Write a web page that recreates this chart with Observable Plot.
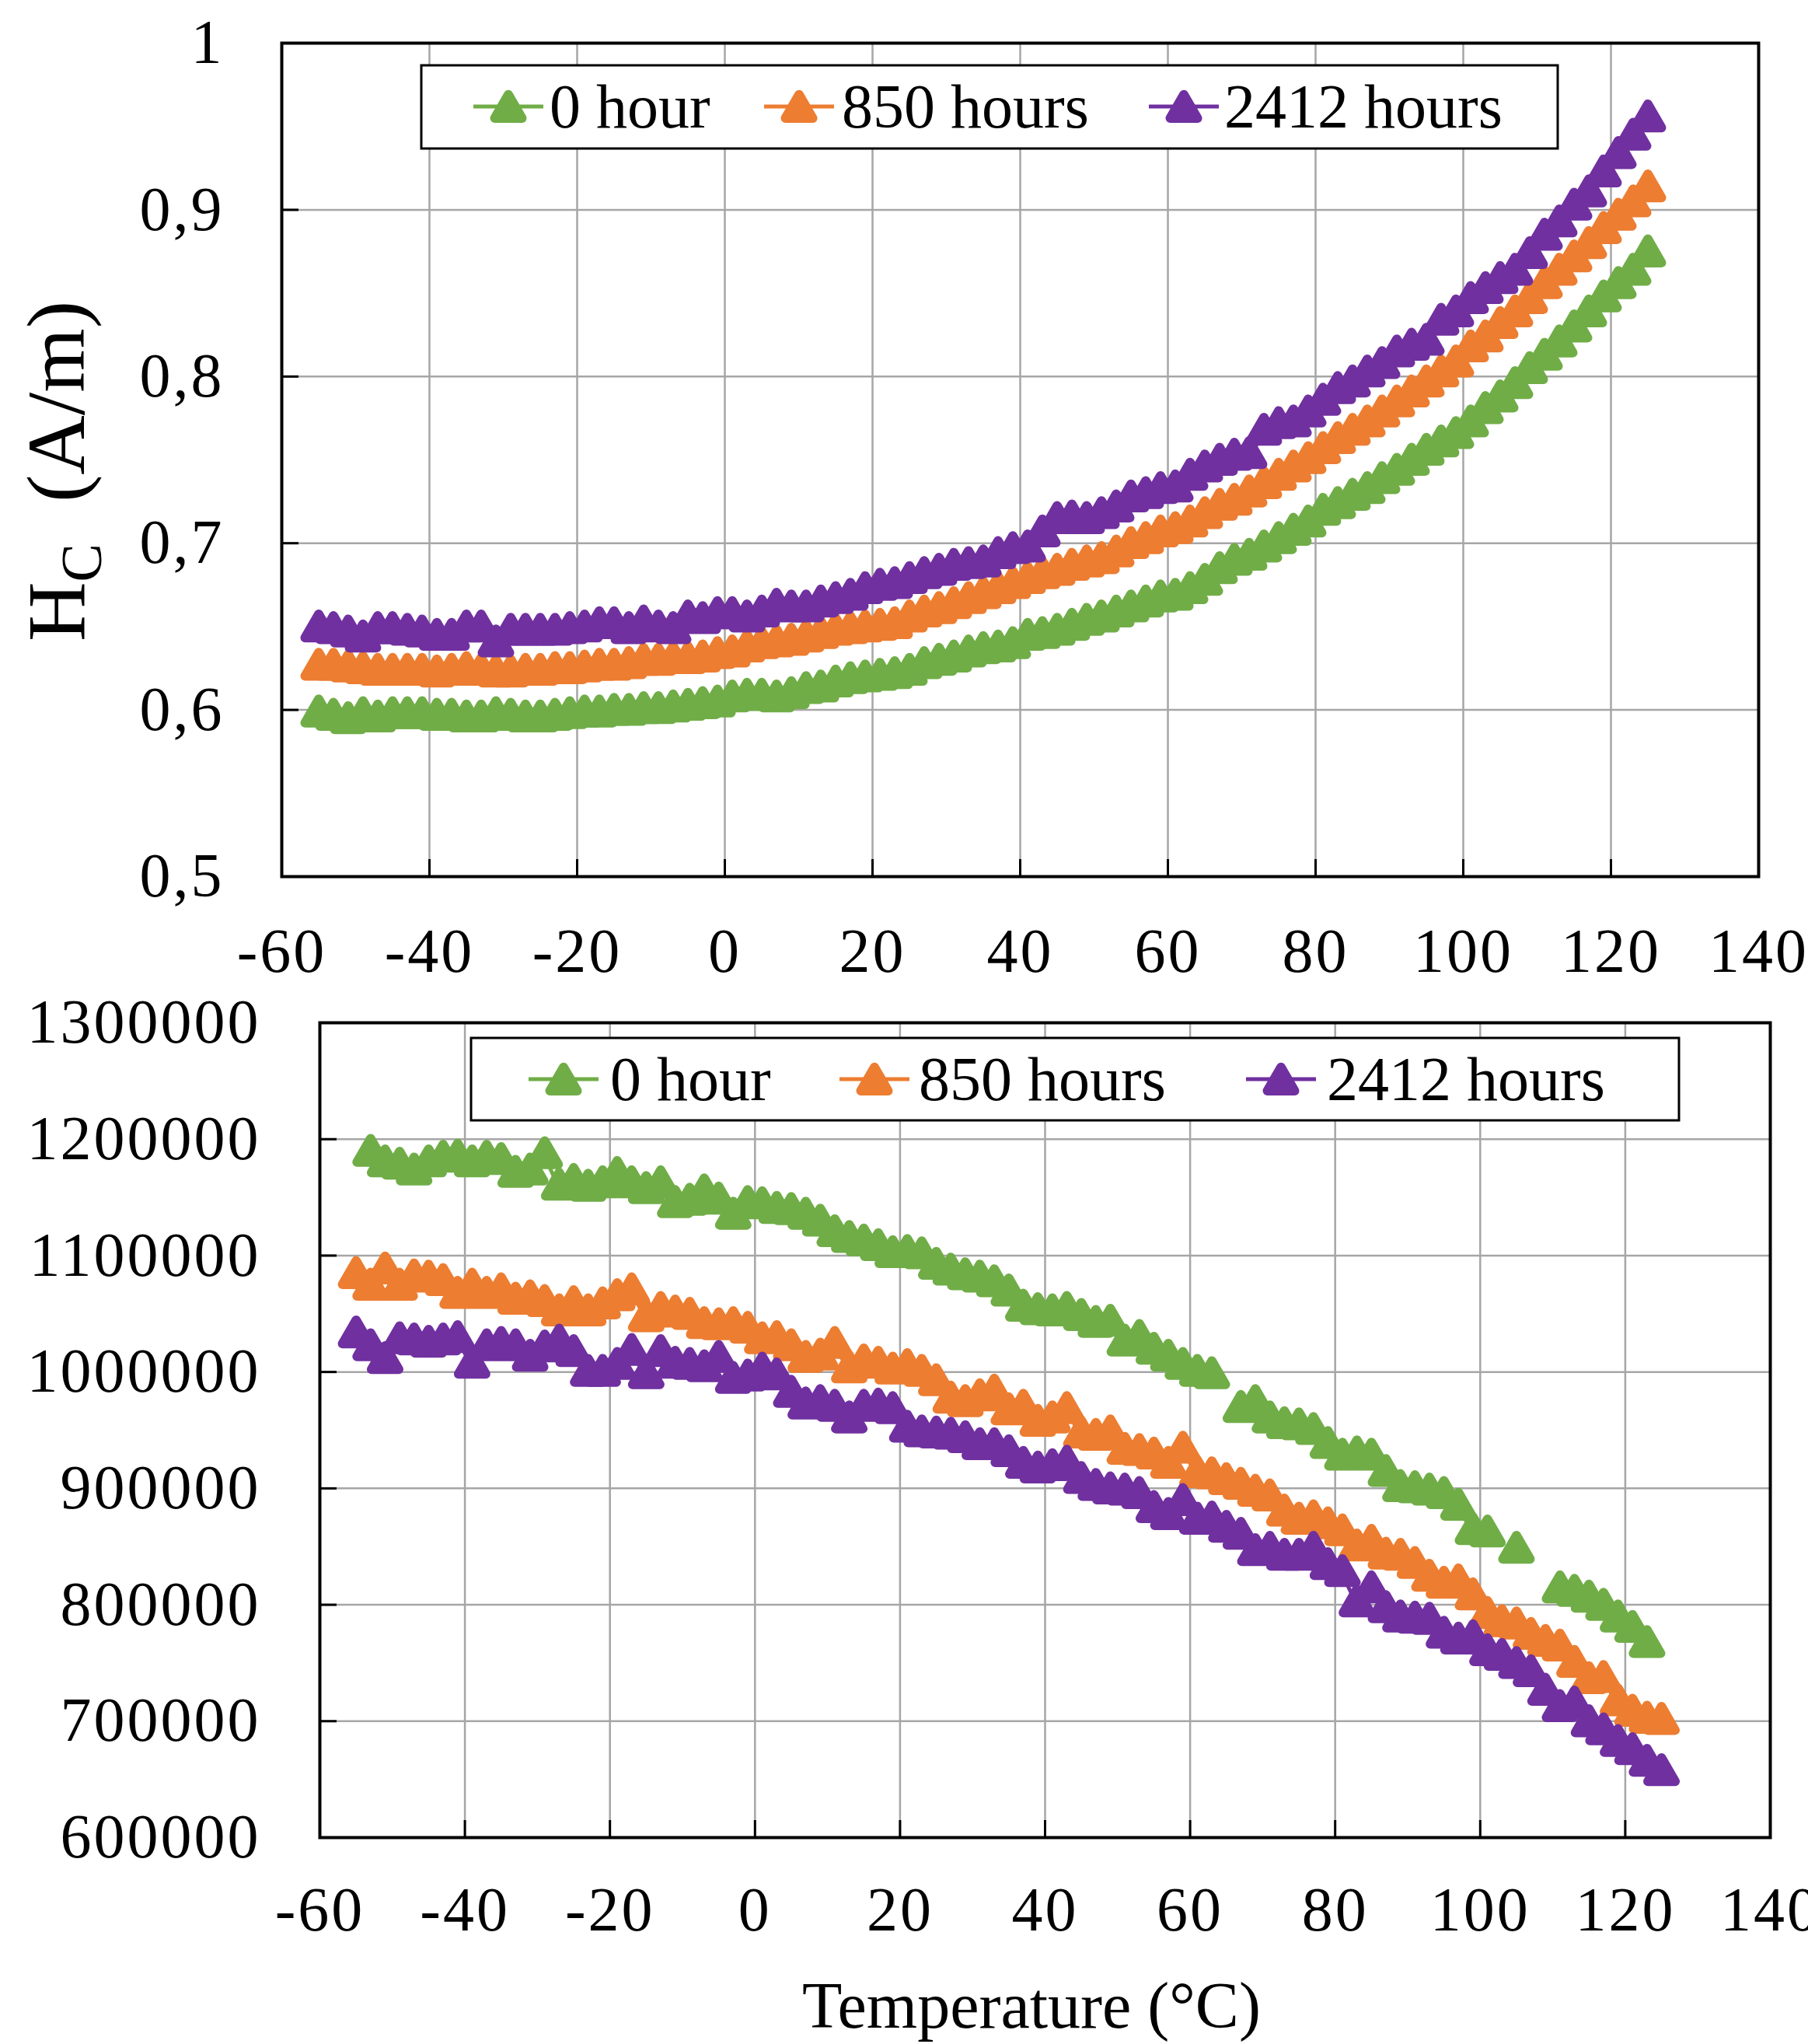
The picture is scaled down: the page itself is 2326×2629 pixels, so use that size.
<!DOCTYPE html>
<html>
<head>
<meta charset="utf-8">
<script src="https://cdn.jsdelivr.net/npm/d3@7"></script>
<script src="https://cdn.jsdelivr.net/npm/@observablehq/plot@0.6"></script>
<style>
  html, body { margin: 0; padding: 0; background: #fff; }
  #wrap { position: relative; width: 2326px; height: 2629px; background: #fff; }
  #wrap > svg, #wrap > div { position: absolute; left: 0; }
  #overlay { position: absolute; left: 0; top: 0; pointer-events: none; }
</style>
</head>
<body>
<div id="wrap"></div>
<script>
// ---------- data ----------
const temperature = [
  -55,-53,-51,-49,-47,-45,-43,-41,-39,-37,
  -35,-33,-31,-29,-27,-25,-23,-21,-19,-17,
  -15,-13,-11,-9,-7,-5,-3,-1,1,3,
  5,7,9,11,13,15,17,19,21,23,
  25,27,29,31,33,35,37,39,41,43,
  45,47,49,51,53,55,57,59,61,63,
  65,67,69,71,73,75,77,79,81,83,
  85,87,89,91,93,95,97,99,101,103,
  105,107,109,111,113,115,117,119,121,123,
  125
];

const seriesNames = ["0 hour", "850 hours", "2412 hours"];
const seriesColors = ["#70AD47", "#ED7D31", "#7030A0"];

// Top chart: Hc (A/m)
const hc0h = [
  .597,.595,.593,.596,.594,.596,.596,.596,.595,.595,
  .594,.594,.596,.595,.594,.594,.595,.596,.597,.597,
  .598,.598,.599,.599,.600,.601,.602,.603,.606,.607,
  .607,.606,.608,.611,.612,.615,.617,.618,.619,.620,
  .622,.626,.628,.630,.633,.635,.636,.638,.643,.644,
  .646,.649,.652,.654,.657,.660,.663,.666,.667,.671,
  .676,.683,.688,.691,.696,.701,.706,.711,.718,.722,
  .727,.731,.737,.742,.748,.754,.759,.764,.771,.779,
  .786,.794,.803,.811,.819,.828,.837,.846,.854,.862,
  .873
];
const hc850h = [
  .625,.625,.624,.623,.622,.622,.622,.622,.621,.622,
  .623,.622,.621,.621,.622,.622,.623,.623,.624,.625,
  .625,.626,.628,.628,.629,.629,.630,.632,.633,.636,
  .638,.639,.640,.642,.644,.646,.647,.648,.649,.650,
  .654,.657,.659,.662,.665,.668,.671,.674,.677,.680,
  .682,.685,.687,.689,.693,.698,.701,.705,.707,.711,
  .716,.721,.724,.729,.734,.739,.744,.749,.755,.761,
  .766,.771,.777,.783,.789,.795,.801,.807,.816,.822,
  .830,.837,.845,.854,.862,.870,.878,.887,.895,.903,
  .912
];
const hc2412h = [
  .648,.647,.645,.642,.647,.647,.646,.645,.643,.643,
  .648,.648,.639,.646,.646,.646,.646,.647,.648,.650,
  .650,.647,.651,.648,.647,.654,.653,.656,.656,.654,
  .657,.661,.660,.660,.663,.665,.667,.671,.673,.674,
  .677,.680,.682,.685,.686,.687,.692,.695,.696,.705,
  .713,.714,.713,.716,.720,.726,.728,.731,.732,.739,
  .744,.748,.751,.752,.766,.770,.771,.777,.784,.791,
  .795,.801,.806,.813,.817,.820,.832,.837,.845,.851,
  .857,.862,.872,.883,.891,.901,.909,.921,.932,.943,
  .954
];

// Bottom chart
const b0h = [
  null,1187000,1178000,1176000,1171000,1178000,1182000,1183000,1178000,1182000,
  1180000,1169000,1171000,1185000,1158000,1162000,1157000,1160000,1168000,1160000,
  1155000,1160000,1143000,1145000,1153000,1146000,1133000,1143000,1142000,1138000,
  1137000,1133000,1127000,1118000,1113000,1110000,1106000,1100000,1101000,1099000,
  1090000,1085000,1081000,1079000,1075000,1067000,1054000,1051000,1050000,1052000,
  1046000,1040000,1041000,1024000,1028000,1017000,1011000,1004000,998000,996000,
  null,967000,972000,958000,953000,952000,948000,936000,926000,928000,
  926000,912000,899000,898000,896000,893000,883000,862000,860000,null,
  846000,null,null,812000,809000,804000,797000,787000,778000,765000,
  null
];
const b850h = [
  1082000,1072000,1086000,1072000,1080000,1079000,1076000,1065000,1072000,1065000,
  1068000,1060000,1062000,1058000,1050000,1057000,1050000,1056000,1063000,1068000,
  1045000,1052000,1049000,1047000,1039000,1038000,1039000,1035000,1026000,1027000,
  1020000,1010000,1012000,1022000,1001000,1007000,1005000,1000000,1003000,998000,
  990000,975000,972000,977000,981000,965000,968000,955000,958000,966000,
  945000,943000,946000,931000,930000,927000,919000,932000,911000,910000,
  905000,901000,895000,891000,878000,871000,873000,867000,861000,848000,
  852000,841000,840000,833000,822000,816000,818000,806000,790000,783000,
  781000,772000,766000,762000,748000,734000,735000,715000,706000,700000,
  699000
];
const b2412h = [
  1031000,1020000,1009000,1026000,1025000,1023000,1025000,1027000,1005000,1020000,
  1022000,1020000,1011000,1019000,1024000,1015000,998000,998000,1004000,1016000,
  996000,1015000,1005000,1004000,1002000,1010000,992000,994000,1000000,995000,
  980000,970000,972000,968000,958000,968000,969000,966000,950000,946000,
  945000,944000,941000,935000,935000,929000,919000,915000,917000,920000,
  906000,900000,897000,896000,893000,881000,875000,887000,871000,872000,
  864000,858000,844000,846000,840000,840000,846000,832000,826000,800000,
  812000,795000,787000,786000,785000,773000,768000,770000,758000,754000,
  747000,740000,724000,710000,713000,697000,690000,680000,673000,663000,
  655000
];

const xTicks = [-60,-40,-20,0,20,40,60,80,100,120,140];
const xTickLabels = ["-60","-40","-20","0","20","40","60","80","100","120","140"];
const topYTicks = [0.5,0.6,0.7,0.8,0.9,1];
const topYTickLabels = ["0,5","0,6","0,7","0,8","0,9","1"];
const bottomYTicks = [600000,700000,800000,900000,1000000,1100000,1200000,1300000];
const bottomYTickLabels = ["600000","700000","800000","900000","1000000","1100000","1200000","1300000"];

// ---------- drawing ----------
const W = 2326;
const FONT = "'Liberation Serif', 'Times New Roman', serif";
const R = 13;
const SW = 12;

function rows(values, name) {
  return temperature.map((t, i) => ({t, v: values[i] == null ? NaN : values[i], s: name}));
}

function chart({series, yDomain, yTicks, yTickLabels, height, ml, mr, mt, mb, xPad, yPad}) {
  const fx = new Map(xTicks.map((d, i) => [d, xTickLabels[i]]));
  const fy = new Map(yTicks.map((d, i) => [d, yTickLabels[i]]));
  const innerW = W - ml - mr, innerH = height - mt - mb;
  const marks = [
    Plot.ruleX(xTicks, {stroke: "#a6a6a6", strokeWidth: 2.5}),
    Plot.ruleY(yTicks, {stroke: "#a6a6a6", strokeWidth: 2.5}),
    Plot.ruleX(xTicks, {stroke: "#000", strokeWidth: 3, insetTop: innerH - 22}),
    Plot.ruleY(yTicks, {stroke: "#000", strokeWidth: 3, insetRight: innerW - 22})
  ];
  series.forEach((vals, i) => {
    const d = rows(vals, seriesNames[i]);
    marks.push(Plot.line(d, {x: "t", y: "v", stroke: seriesColors[i], strokeWidth: 5}));
    marks.push(Plot.dot(d, {x: "t", y: "v", symbol: "triangle", r: R,
      fill: seriesColors[i], stroke: seriesColors[i], strokeWidth: SW, strokeLinejoin: "round"}));
  });
  marks.push(Plot.frame({stroke: "#000", strokeWidth: 4}));
  marks.push(Plot.axisX({ticks: xTicks, tickFormat: d => fx.get(d), tickSize: 0, tickPadding: xPad, label: null}));
  marks.push(Plot.axisY({ticks: yTicks, tickFormat: d => fy.get(d), tickSize: 0, tickPadding: yPad, label: null}));
  return Plot.plot({
    width: W, height,
    marginLeft: ml, marginRight: mr, marginTop: mt, marginBottom: mb,
    x: {domain: [-60, 140], label: null},
    y: {domain: yDomain, label: null},
    style: {fontFamily: FONT, fontSize: "80px", letterSpacing: "3px", color: "#000", background: "transparent", overflow: "visible"},
    marks
  });
}

const wrap = document.getElementById("wrap");

const topChart = chart({
  series: [hc0h, hc850h, hc2412h], yDomain: [0.5, 1], yTicks: topYTicks, yTickLabels: topYTickLabels,
  height: 1265, ml: 362, mr: 64, mt: 55, mb: 138, xPad: 66, yPad: 74
});
topChart.style.top = "0px";
wrap.appendChild(topChart);

const bottomChart = chart({
  series: [b0h, b850h, b2412h], yDomain: [600000, 1300000], yTicks: bottomYTicks, yTickLabels: bottomYTickLabels,
  height: 1235, ml: 411, mr: 49, mt: 50, mb: 137, xPad: 63, yPad: 76
});
bottomChart.style.top = "1265px";
wrap.appendChild(bottomChart);

// ---------- overlay: legends and axis titles ----------
const ns = "http://www.w3.org/2000/svg";
const ov = d3.select(wrap).append("svg")
  .attr("id", "overlay").attr("xmlns", ns)
  .attr("width", W).attr("height", 2629)
  .style("font-family", FONT);

const tri = d3.symbol().type(d3.symbolTriangle).size(Math.PI * R * R)();

function legend(box, items, lineY, triY, baseY) {
  ov.append("rect").attr("x", box[0]).attr("y", box[1]).attr("width", box[2]).attr("height", box[3])
    .attr("fill", "#fff").attr("stroke", "#000").attr("stroke-width", 3);
  items.forEach((it, i) => {
    const c = seriesColors[i];
    ov.append("line").attr("x1", it.cx - 45).attr("x2", it.cx + 45).attr("y1", lineY).attr("y2", lineY)
      .attr("stroke", c).attr("stroke-width", 5);
    ov.append("path").attr("d", tri).attr("transform", `translate(${it.cx},${triY})`)
      .attr("fill", c).attr("stroke", c).attr("stroke-width", SW).attr("stroke-linejoin", "round");
    ov.append("text").attr("x", it.tx).attr("y", baseY).attr("font-size", 80).attr("fill", "#000")
      .text(seriesNames[i]);
  });
}

legend([542, 84, 1462, 107], [{cx: 654, tx: 707}, {cx: 1028, tx: 1083}, {cx: 1523, tx: 1575}], 137, 142, 164);
legend([606, 1335, 1554, 106], [{cx: 725, tx: 785}, {cx: 1125, tx: 1182}, {cx: 1648, tx: 1707}], 1388, 1393, 1415);

// y-axis title of the top chart: H_C (A/m)
const yt = ov.append("text")
  .attr("transform", "translate(108,606) rotate(-90)")
  .attr("text-anchor", "middle").attr("font-size", 106).attr("fill", "#000");
yt.append("tspan").text("H");
yt.append("tspan").attr("font-size", 74).attr("dy", 22).text("C");
yt.append("tspan").attr("dy", -22).attr("xml:space", "preserve").text("\u00a0\u00a0(A/m)");

// x-axis title of the bottom chart
ov.append("text").attr("x", 1327).attr("y", 2608).attr("text-anchor", "middle")
  .attr("font-size", 84).attr("fill", "#000").text("Temperature (°C)");
</script>
</body>
</html>
